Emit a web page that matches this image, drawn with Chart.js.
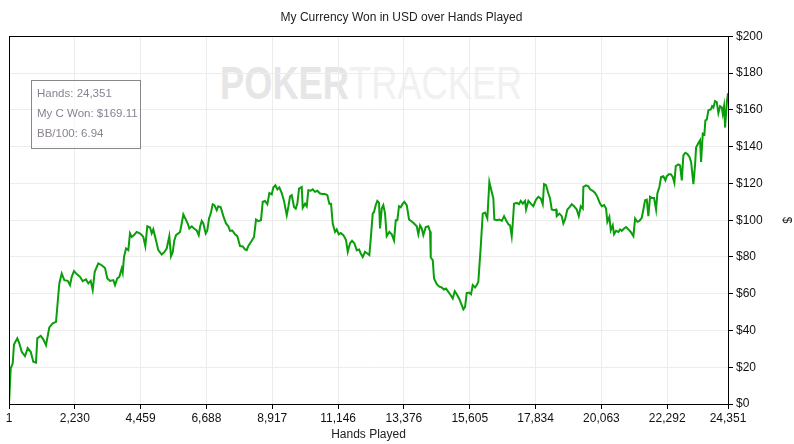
<!DOCTYPE html>
<html>
<head>
<meta charset="utf-8">
<script src="https://cdn.jsdelivr.net/npm/chart.js@4"></script>
<style>
  body { margin: 0; background: #fff; }
  #wrap { position: relative; width: 794px; height: 444px; }
  #chart { position: absolute; left: 0; top: 0; z-index: 2; }
  #mark { position: absolute; left: 220px; top: 58px; z-index: 1; white-space: nowrap;
          font-family: "Liberation Sans", Arial, sans-serif; font-size: 46px; line-height: 50px;
          transform-origin: 0 0; }
  #mark b { color: #e6e6e6; }
  #mark span { color: #f1f1f1; }
  #info { position: absolute; left: 31px; top: 80px; width: 110px; height: 69px; z-index: 3;
          border: 1px solid #888; background: rgba(255,255,255,0.6); white-space: nowrap;
          font-family: "Liberation Sans", Arial, sans-serif; font-size: 11.5px; color: #8a8290;
          padding: 2px 0 0 5px; box-sizing: border-box; line-height: 20px; }
</style>
</head>
<body>
<div id="wrap">
  <div id="mark"><b>POKER</b><span>TRACKER</span></div>
  <canvas id="chart" width="794" height="444"></canvas>
  <div id="info">Hands: 24,351<br>My C Won: $169.11<br>BB/100: 6.94</div>
</div>
<script>
// Valores
const hands = [1, 11, 59, 126, 170, 282, 350, 431, 543, 634, 736, 824, 915, 960, 1075, 1163, 1254, 1366, 1481, 1593,
  1637, 1705, 1786, 1874, 1989, 2067, 2125, 2203, 2294, 2406, 2497, 2609, 2687, 2768, 2836, 2904, 3026, 3141, 3253, 3331,
  3422, 3534, 3591, 3669, 3737, 3818, 3852, 3896, 3964, 4042, 4099, 4157, 4235, 4326, 4414, 4495, 4550, 4618, 4685, 4777,
  4834, 4888, 4980, 5058, 5173, 5261, 5342, 5430, 5488, 5545, 5600, 5657, 5735, 5793, 5850, 5905, 5972, 6054, 6108, 6189,
  6267, 6359, 6426, 6470, 6528, 6582, 6663, 6717, 6775, 6833, 6900, 6955, 7036, 7090, 7171, 7260, 7351, 7429, 7486, 7564,
  7656, 7734, 7825, 7917, 7994, 8052, 8106, 8221, 8299, 8367, 8445, 8536, 8594, 8672, 8750, 8818, 8899, 8953, 9021, 9089,
  9157, 9238, 9315, 9407, 9461, 9519, 9576, 9654, 9712, 9766, 9824, 9915, 9949, 10027, 10084, 10139, 10220, 10287, 10365, 10443,
  10535, 10626, 10704, 10782, 10850, 10907, 10965, 11043, 11100, 11168, 11236, 11324, 11415, 11473, 11551, 11619, 11697, 11778, 11856, 11914,
  11981, 12059, 12137, 12205, 12252, 12319, 12363, 12421, 12475, 12533, 12567, 12624, 12678, 12736, 12793, 12881, 12963, 13041, 13099, 13153,
  13210, 13268, 13336, 13390, 13471, 13549, 13640, 13719, 13810, 13864, 13922, 13979, 14033, 14115, 14203, 14260, 14284, 14352, 14396, 14487,
  14575, 14656, 14734, 14802, 14880, 14961, 15029, 15097, 15165, 15243, 15311, 15388, 15446, 15503, 15581, 15649, 15706, 15784, 15842, 15896,
  15930, 15977, 16045, 16123, 16201, 16269, 16350, 16404, 16438, 16519, 16607, 16689, 16767, 16835, 16913, 16970, 17026, 17061, 17105, 17197,
  17275, 17332, 17400, 17478, 17512, 17590, 17671, 17759, 17850, 17928, 18010, 18077, 18121, 18189, 18267, 18325, 18382, 18460, 18528, 18552,
  18640, 18721, 18775, 18833, 18911, 18978, 19060, 19137, 19229, 19297, 19365, 19433, 19453, 19544, 19622, 19680, 19771, 19849, 19927, 20018,
  20076, 20154, 20221, 20265, 20333, 20381, 20448, 20492, 20560, 20638, 20696, 20753, 20831, 20899, 20977, 21058, 21147, 21204, 21282, 21350,
  21430, 21485, 21543, 21600, 21654, 21711, 21769, 21847, 21915, 21959, 22027, 22084, 22162, 22230, 22277, 22345, 22413, 22480, 22535, 22582,
  22670, 22728, 22786, 22840, 22908, 22975, 23043, 23101, 23179, 23236, 23270, 23348, 23405, 23439, 23497, 23551, 23585, 23632, 23687, 23768,
  23812, 23856, 23914, 23971, 24025, 24083, 24141, 24174, 24218, 24252, 24310, 24351];

const won = [0, 0, 19.4, 22, 32.4, 35.7, 33, 28.4, 26, 30.4, 28.4, 23, 22.5, 35.7, 37.1, 35.2, 32, 41.7, 43.9, 44.7,
  52.9, 65.6, 71, 67.4, 67, 64.7, 69.2, 72.3, 70.7, 69.2, 66.8, 67.8, 65.6, 67, 62, 71.9, 76.5, 75.5, 74, 68.3,
  67, 67.4, 64.7, 68.3, 69.2, 73.7, 71.4, 80, 84.6, 83.7, 92.8, 90.9, 91.9, 93.6, 93, 91.9, 90.9, 85.9, 96.7, 96,
  92.8, 95, 89, 83.7, 81.3, 82.6, 84.6, 91.3, 80.4, 82.6, 89, 91.9, 92.8, 93.6, 98.2, 103.1, 100.9, 98.2, 95.5, 96.7,
  95.5, 94.4, 91.9, 96.3, 99.6, 98.2, 92.8, 94.4, 100.9, 103.6, 108.7, 108.2, 105.4, 107.6, 107, 102.2, 98.2, 96.7, 94.2, 94.4,
  92.3, 91.3, 85.9, 85.7, 84.1, 83.7, 86, 88.8, 90.9, 100.4, 99.5, 100, 110, 110.5, 108.7, 114.8, 114, 117.8, 119, 116.8,
  117.8, 114.8, 110.5, 102.7, 107.2, 113, 113.6, 107.2, 106.3, 109, 117.2, 118.1, 106.8, 109, 107.6, 116.3, 116, 116.8, 115.4, 116,
  114.5, 114.2, 114.2, 113.6, 109, 109, 98.2, 93.6, 95, 92.3, 93, 91.9, 89.2, 82.8, 87.5, 88.8, 87.5, 83.7, 84.1, 81.9,
  80, 82.8, 81.9, 81, 90, 103.6, 104.5, 108.2, 110.5, 109.4, 95.5, 106.3, 108.2, 103.6, 91.3, 93.6, 92.3, 89, 100, 100,
  107.6, 107, 109, 110, 108.2, 100.4, 99.3, 98.2, 96.7, 92.3, 97.2, 95.5, 91.9, 96.3, 96.7, 93.9, 79.7, 78.3, 68.3, 65.2,
  63.8, 63.4, 62.3, 62.8, 61, 59.2, 57.4, 61.4, 59.7, 57.4, 54.7, 51.5, 52.9, 60.3, 60.6, 59.7, 64.7, 63.4, 64.7, 66.5,
  74.6, 85.5, 103.6, 104.1, 101, 120.8, 115.4, 111.8, 100.4, 100, 100.4, 99.6, 102.2, 100, 97.8, 97.2, 91.3, 98.2, 109, 109.4,
  108.7, 110.5, 109, 110.5, 105.8, 110.5, 109, 107.6, 111.2, 112.7, 111.8, 108.7, 119.6, 119, 114.5, 111.8, 105.8, 105.4, 105.8, 102.2,
  103.6, 102.2, 98.2, 100.4, 105.8, 107, 108.7, 107.6, 105.8, 102.2, 107.6, 106.3, 118.1, 119, 118.5, 116.8, 116, 114.8, 112.7, 109,
  107.6, 108.2, 106.3, 99.1, 101.8, 94.6, 97.2, 92.3, 94.2, 93.6, 95, 94.2, 95.5, 96.3, 95, 93.6, 91.3, 100.9, 99.1, 99.6,
  101.3, 105.8, 110.9, 111.2, 102.2, 112.7, 112.1, 112.1, 105.8, 114.5, 118.1, 123.5, 123.9, 121.7, 123.9, 125, 125, 123.5, 120.3, 129.4,
  130.3, 129.8, 121.7, 135.3, 136.7, 136, 134.6, 131.7, 119.6, 130.3, 139.5, 142, 143.5, 131.7, 147.1, 146.7, 154.3, 154.7, 159.8, 160.2,
  162, 161.3, 164.8, 164.3, 158.3, 162, 161.3, 157.9, 162, 150.4, 163.8, 169.11];

const xTicks = [1, 2230, 4459, 6688, 8917, 11146, 13376, 15605, 17834, 20063, 22292, 24351];
const yTicks = [0, 20, 40, 60, 80, 100, 120, 140, 160, 180, 200];

const puntos = hands.map((h, i) => ({ x: h, y: won[i] }));
const fuente = { family: '"Liberation Sans", Arial, sans-serif', size: 12 };

// borde negro alrededor del área del gráfico
const marco = {
  id: 'marco',
  afterDraw(chart) {
    const a = chart.chartArea, c = chart.ctx;
    c.save();
    c.strokeStyle = '#000';
    c.lineWidth = 1;
    c.strokeRect(Math.round(a.left) + 0.5, Math.round(a.top) + 0.5, Math.round(a.right - a.left), Math.round(a.bottom - a.top));
    c.restore();
  }
};

new Chart(document.getElementById('chart'), {
  type: 'line',
  data: {
    datasets: [{
      label: 'My C Won',
      data: puntos,
      borderColor: '#0a9e0a',
      borderWidth: 2,
      pointRadius: 0,
      tension: 0,
      fill: false
    }]
  },
  options: {
    responsive: false,
    animation: false,
    devicePixelRatio: 1,
    layout: { padding: { left: 9, right: 0, top: 0, bottom: 0 } },
    plugins: {
      legend: { display: false },
      tooltip: { enabled: false },
      title: {
        display: true,
        text: 'My Currency Won in USD over Hands Played',
        color: '#222',
        font: { ...fuente, weight: 'normal' },
        padding: { top: 10, bottom: 12 }
      }
    },
    scales: {
      x: {
        type: 'linear',
        min: 1,
        max: 24351,
        afterBuildTicks: s => { s.ticks = xTicks.map(v => ({ value: v })); },
        afterFit: s => { s.height = 40; },
        grid: { color: '#ececec', tickColor: '#000', tickLength: 5 },
        border: { color: '#000' },
        ticks: {
          color: '#111', font: fuente, padding: 2, maxRotation: 0, autoSkip: false,
          callback: v => Number(v).toLocaleString('en-US')
        },
        title: { display: true, text: 'Hands Played', color: '#222', font: fuente, padding: { top: 0, bottom: 2 } }
      },
      y: {
        position: 'right',
        min: 0,
        max: 200,
        afterBuildTicks: s => { s.ticks = yTicks.map(v => ({ value: v })); },
        afterFit: s => { s.width = 66; },
        grid: { color: '#ececec', tickColor: '#000', tickLength: 5 },
        border: { color: '#000' },
        ticks: { color: '#111', font: fuente, padding: 3, callback: v => '$' + v },
        title: { display: true, text: '$', color: '#222', font: fuente, padding: { top: 0, bottom: 4 } }
      }
    }
  },
  plugins: [marco]
});

// ajustar la marca de agua al ancho del original
const mark = document.getElementById('mark');
mark.style.transform = 'scale(' + (302 / mark.offsetWidth) + ',1)';
</script>
</body>
</html>
